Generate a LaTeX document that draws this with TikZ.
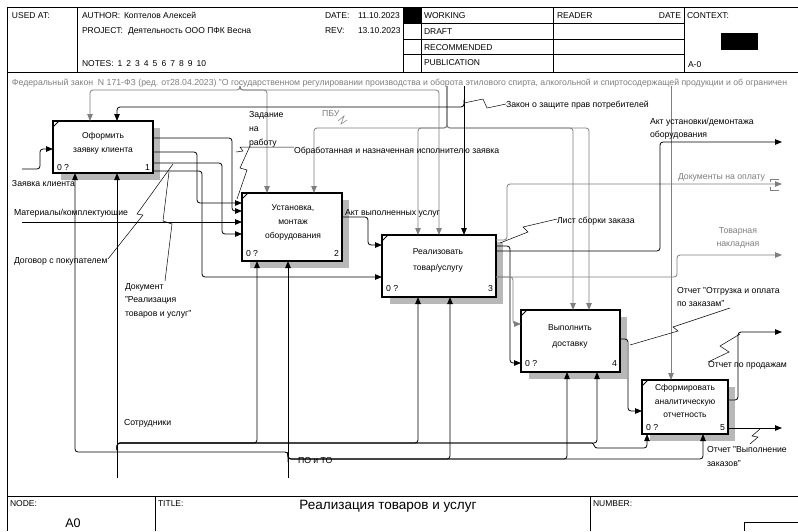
\documentclass[tikz,border=0pt]{standalone}
\usepackage{fontspec}
\setmainfont{Liberation Sans}
\usetikzlibrary{arrows.meta}
\definecolor{gl}{HTML}{7F7F7F}
\begin{document}
\begin{tikzpicture}[x=1pt,y=-1pt,
  every node/.style={inner sep=0pt, outer sep=0pt},
  tx/.style={font=\fontsize{8.7}{10}\selectfont, anchor=base west, yshift=-3.1pt},
  txc/.style={font=\fontsize{8.5}{10}\selectfont, anchor=base, yshift=-3pt},
  hd/.style={font=\fontsize{8.5}{10}\selectfont, anchor=base west, yshift=-3.1pt},
  ft/.style={font=\fontsize{8.5}{9}\selectfont, anchor=base west, yshift=-3pt},
  gtx/.style={tx, text=gl},
  ln/.style={line width=0.8pt, rounded corners=3pt},
  arr/.style={ln, -{Triangle[length=7pt,width=5.5pt]}},
  garr/.style={arr, draw=gl},
  lead/.style={line width=0.5pt},
  fbox/.style={draw, line width=1.2pt, fill=white, anchor=north west},
  shadow/.style={fill=black!28},
  frame/.style={line width=0.8pt},
]
\useasboundingbox (0,0) rectangle (798,531);
\fill[white] (0,0) rectangle (798,531);
% ---------- frame ----------
\draw[frame] (798,7) -- (7,7) -- (7,531);
\draw[frame] (7,72) -- (798,72);
\draw[frame] (77,7) -- (77,72);
\draw[frame] (403,7) -- (403,72);
\draw[frame] (421,7) -- (421,72);
\draw[frame] (553,7) -- (553,72);
\draw[frame] (684,7) -- (684,72);
\draw[frame] (403,23) -- (684,23);
\draw[frame] (403,39) -- (684,39);
\draw[frame] (403,54) -- (684,54);
\fill (403,7) rectangle (421,23);
\fill (721,33) rectangle (758,50);
\draw[frame] (7,496) -- (798,496);
\draw[frame] (155,496) -- (155,531);
\draw[frame] (590,496) -- (590,531);
\draw[frame] (744,531) |- (798,522);
% header text
\node[hd] (usedat) at (12,15) {USED AT:};
\node[hd] (author) at (82,15) {AUTHOR:};
\node[hd] (authorv) at (124,15) {Коптелов Алексей};
\node[hd] (project) at (82,30) {PROJECT:};
\node[hd] (projectv) at (128,30) {Деятельность ООО ПФК Весна};
\node[hd] (notes) at (82,63) {NOTES:};
\foreach \i in {1,...,10} {\node[hd] (n\i) at ({117.5+8.8*(\i-1)},63) {\i};}
\node[hd] (date) at (325,15) {DATE:};
\node[hd] (datev) at (358,15) {11.10.2023};
\node[hd] (rev) at (325,30) {REV:};
\node[hd] (revv) at (358,30) {13.10.2023};
\node[hd] (working) at (424,15) {WORKING};
\node[hd] (draft) at (424,31) {DRAFT};
\node[hd] (recom) at (424,47) {RECOMMENDED};
\node[hd] (publ) at (424,62) {PUBLICATION};
\node[hd] (reader) at (557,15) {READER};
\node[hd, anchor=base east] (rdate) at (681,15) {DATE};
\node[hd] (context) at (687,15) {CONTEXT:};
\node[hd] (am0) at (688,64) {A-0};
% footer text
\node[ft] (node) at (10,503) {NODE:};
\node[ft] (title) at (158,503) {TITLE:};
\node[ft] (number) at (593,503) {NUMBER:};
\node[font=\fontsize{13.5}{15}\selectfont, anchor=base, yshift=-4.8pt] (titletext) at (388,505) {Реализация товаров и услуг};
\node[font=\fontsize{12.5}{14}\selectfont, anchor=base, yshift=-4.5pt] (nodetext) at (73,523) {A0};
% ---------- federal law text ----------
\begin{scope}
\clip (7,73) rectangle (798,95);
\node[gtx] (fz) at (12,82) {Федеральный закон\ \ N 171-ФЗ (ред. от28.04.2023) "О государственном регулировании производства и оборота этилового спирта, алкогольной и спиртосодержащей продукции и об ограничен};
\end{scope}
% ---------- shadows & boxes ----------
\fill[shadow] (61,128) rectangle (160,180);
\fill[shadow] (250,200) rectangle (349,268);
\fill[shadow] (390,242) rectangle (503,304);
\fill[shadow] (529,317) rectangle (627,379);
\fill[shadow] (650,387) rectangle (735,441);
\node[fbox, minimum width=100pt, minimum height=52pt] (b1) at (53,121) {};
\node[fbox, minimum width=100pt, minimum height=68pt] (b2) at (242,193) {};
\node[fbox, minimum width=114pt, minimum height=62pt] (b3) at (382,235) {};
\node[fbox, minimum width=99pt, minimum height=62pt] (b4) at (521,310) {};
\node[fbox, minimum width=86pt, minimum height=54pt] (b5) at (642,380) {};
\foreach \b in {b1,b2,b3,b4,b5} {\draw[line width=0.8pt] ([yshift=-6pt]\b.north west) -- ([xshift=6pt]\b.north west);}
% box texts
\node[txc] (b1a) at (103,135) {Оформить};
\node[txc] (b1b) at (103,149) {заявку клиента};
\node[txc] (b2a) at (293,207) {Установка,};
\node[txc] (b2b) at (293,221) {монтаж};
\node[txc] (b2c) at (293,235) {оборудования};
\node[txc] (b3a) at (438,251) {Реализовать};
\node[txc] (b3b) at (438,267) {товар/услугу};
\node[txc] (b4a) at (570,327) {Выполнить};
\node[txc] (b4b) at (570,343) {доставку};
\node[txc] (b5a) at (685,387) {Сформировать};
\node[txc] (b5b) at (685,401) {аналитическую};
\node[txc] (b5c) at (685,414) {отчетность};
\node[tx] (b1z) at (57,167) {0 ?};
\node[tx] (b2z) at (246,253) {0 ?};
\node[tx] (b3z) at (386,288) {0 ?};
\node[tx] (b4z) at (525,363) {0 ?};
\node[tx] (b5z) at (646,427) {0 ?};
\node[tx, anchor=base east] (b1n) at (150,167) {1};
\node[tx, anchor=base east] (b2n) at (339,253) {2};
\node[tx, anchor=base east] (b3n) at (493,288) {3};
\node[tx, anchor=base east] (b4n) at (617,363) {4};
\node[tx, anchor=base east] (b5n) at (725,427) {5};
% ---------- controls ----------
\draw[garr] (240,86) |- (90,90) -- (90,121);
\draw[garr] (240,86) |- (267,90) -- (267,193);
\draw[garr] (240,86) |- (439,90) -- (439,235);
\draw[garr] (447,86) |- (314,128) -- (314,193);
\draw[garr] (447,86) |- (418,128) -- (418,235);
\draw[garr] (447,86) |- (573,128) -- (573,310);
\draw[garr] (447,86) |- (589,128) -- (589,310);
\draw[garr] (671,86) -- (671,380);
\draw[arr] (464,86) -- (464,235);
\draw[arr] (464,100) |- (117,107) -- (117,121);
% ---------- inputs ----------
\draw[arr] (22,169) -| (40,149) -- (53,149);
\draw[arr] (22,222) -- (242,222);
% box1 outputs
\draw[arr] (153,138) -| (232,211) -- (242,211);
\draw[arr] (153,152) -| (197,203) -- (242,203);
\draw[arr] (153,163) -| (222,234) -- (242,234);
\draw[arr] (153,171) -| (202,277) -- (382,277);
% box2 output
\draw[arr] (342,217) -| (368,245) -- (382,245);
% box3 outputs
\draw[garr] (496,240) -| (507,184) -- (782,184);
\draw[gl, line width=0.8pt] (779,179) -| (770,182);
\draw[gl, line width=0.8pt] (779,190) -| (770,187);
\draw[arr] (496,246) -| (510,363) -- (521,363);
\draw[arr] (496,251) -| (660,142) -- (782,142);
\draw[garr] (496,277) -| (677,255) -- (782,255);
\draw[garr] (496,277) -| (513,324) -- (521,324);
% box4 output
\draw[arr] (620,339) -| (628,411) -- (642,411);
% box5 outputs
\draw[arr] (728,400) -| (738,332) -- (782,332);
\draw[arr] (728,428) -- (782,428);
% ---------- mechanisms ----------
\draw[arr] (117,478) -- (117,173);
\draw[arr] (117,450) |- (257,443) -- (257,261);
\draw[arr] (117,450) |- (418,443) -- (418,297);
\draw[arr] (117,450) |- (597,443) -- (597,372);
\draw[arr] (117,450) |- (589,443) .. controls (594,443) and (594,448) .. (600,448) -| (647,434);
\draw[arr] (288,478) -- (288,261);
\draw[arr] (288,462) |- (75,452) -- (75,173);
\draw[arr] (288,452) |- (450,459) -- (450,297);
\draw[arr] (288,452) |- (567,459) -- (567,372);
\draw[arr] (288,452) |- (703,459) -- (703,434);
% ---------- labels ----------
\node[tx] (l1) at (12,183) {Заявка клиента};
\node[tx] (l2) at (14,212) {Материалы/комплектующие};
\node[tx] (l3) at (14,260) {Договор с покупателем};
\node[tx] (l4a) at (125,286) {Документ};
\node[tx] (l4b) at (125,299) {"Реализация};
\node[tx] (l4c) at (125,313) {товаров и услуг"};
\node[tx] (l5a) at (249,114) {Задание};
\node[tx] (l5b) at (249,128) {на};
\node[tx] (l5c) at (249,142) {работу};
\node[tx] (l6) at (294,150) {Обработанная и назначенная исполнителю заявка};
\node[gtx] (l7) at (322,113) {ПБУ};
\node[tx] (l8) at (506,104) {Закон о защите прав потребителей};
\node[tx] (l9a) at (650,121) {Акт установки/демонтажа};
\node[tx] (l9b) at (650,134) {оборудования};
\node[gtx] (l10) at (678,176) {Документы на оплату};
\node[tx] (l11) at (345,212) {Акт выполненных услуг};
\node[tx] (l12) at (557,220) {Лист сборки заказа};
\node[gtx, anchor=base] (l13a) at (738,230) {Товарная};
\node[gtx, anchor=base] (l13b) at (738,243) {накладная};
\node[tx] (l14a) at (677,290) {Отчет "Отгрузка и оплата};
\node[tx] (l14b) at (677,303) {по заказам"};
\node[tx] (l15) at (708,364) {Отчет по продажам};
\node[tx] (l16a) at (707,449) {Отчет "Выполнение};
\node[tx] (l16b) at (707,463) {заказов"};
\node[tx] (l17) at (124,422) {Сотрудники};
\node[tx] (l18) at (298,460) {ПО и ТО};
% leaders
\draw[lead] (250,146) -- (240,168) -- (247,170) -- (237,199);
\draw[lead] (294,147) -- (240,147) -- (243,151) -- (236,152);
\draw[lead] (108,259) -- (143,215) -- (137,214) -- (173,164);
\draw[lead] (165,281) -- (172,224) -- (163,221) -- (169,172);
\draw[lead, gl] (338,121) -- (344,116) -- (341,124) -- (347,120);
\draw[lead] (464,103) -- (483,99) -- (487,108) -- (506,104);
\draw[lead] (500,243) -- (528,232) -- (523,227) -- (557,219);
\draw[lead] (630,345) -- (678,331) -- (673,327) -- (730,308);
\draw[lead] (708,362) -- (729,352) -- (720,346) -- (740,334);
\draw[lead] (760,429) -- (752,436) -- (758,437) -- (750,444);
\end{tikzpicture}
\end{document}
